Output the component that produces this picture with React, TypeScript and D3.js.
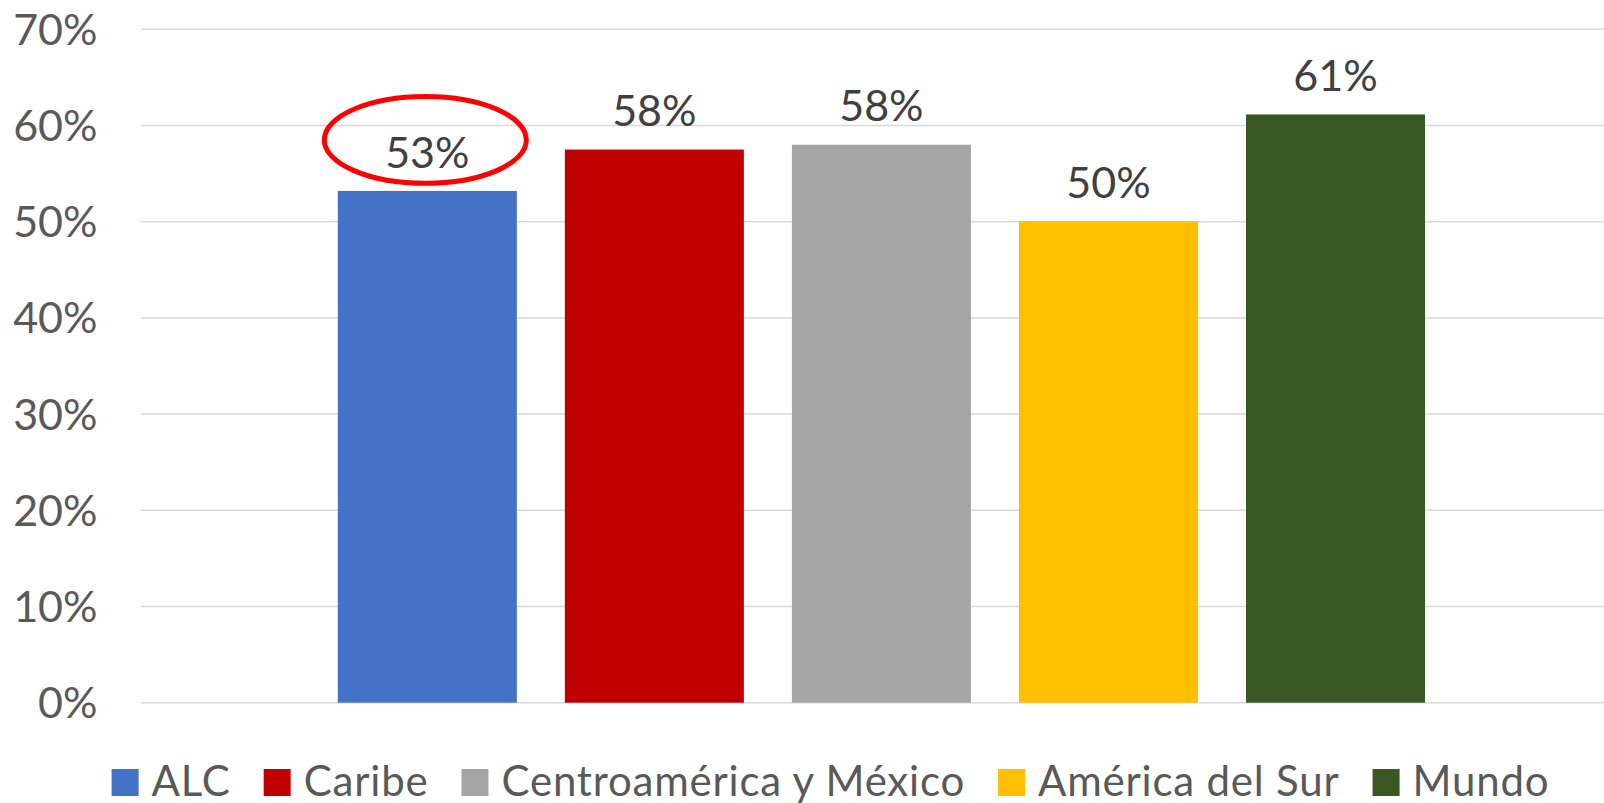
import React, { useEffect, useRef } from 'react';
import * as d3 from 'd3';

const categories = ['ALC', 'Caribe', 'Centroamérica y México', 'América del Sur', 'Mundo'];
const values = [0.532, 0.575, 0.58, 0.5005, 0.6115];
const valueLabels = ['53%', '58%', '58%', '50%', '61%'];
const colors = ['#4472C4', '#C00000', '#A5A5A5', '#FFC000', '#385723'];
const yTicks = [0, 0.1, 0.2, 0.3, 0.4, 0.5, 0.6, 0.7];
const highlighted = 'ALC';

const FONT = 'Lato, "Open Sans", sans-serif';

export default function App() {
  const ref = useRef<SVGSVGElement>(null);

  useEffect(() => {
    document.body.style.margin = '0';
    const svg = d3.select(ref.current);
    svg.selectAll('*').remove();

    const W = 1604;
    const y = d3.scaleLinear().domain([0, 0.7]).range([702.7, 29.3]);
    const x = d3
      .scaleBand<string>()
      .domain(categories)
      .range([337.8, 1425])
      .paddingInner(0.2115)
      .paddingOuter(0);

    // gridlines
    svg
      .append('g')
      .selectAll('line')
      .data(yTicks)
      .join('line')
      .attr('x1', 141)
      .attr('x2', W)
      .attr('y1', (d) => y(d))
      .attr('y2', (d) => y(d))
      .attr('stroke', '#D9D9D9')
      .attr('stroke-width', 1.5);

    // y tick labels
    const fmt = d3.format('.0%');
    svg
      .append('g')
      .selectAll('text')
      .data(yTicks)
      .join('text')
      .attr('x', 97.5)
      .attr('y', (d) => y(d) + 15.5)
      .attr('text-anchor', 'end')
      .attr('font-family', FONT)
      .attr('font-size', 43)
      .attr('fill', '#595959')
      .text((d) => fmt(d));

    // bars
    svg
      .append('g')
      .selectAll('rect')
      .data(categories)
      .join('rect')
      .attr('x', (d) => x(d)!)
      .attr('width', x.bandwidth())
      .attr('y', (d, i) => y(values[i]))
      .attr('height', (d, i) => y(0) - y(values[i]))
      .attr('fill', (d, i) => colors[i]);

    // data labels
    svg
      .append('g')
      .selectAll('text')
      .data(categories)
      .join('text')
      .attr('x', (d) => x(d)! + x.bandwidth() / 2)
      .attr('y', (d, i) => y(values[i]) - 23.4)
      .attr('text-anchor', 'middle')
      .attr('font-family', FONT)
      .attr('font-size', 43)
      .attr('fill', '#404040')
      .text((d, i) => valueLabels[i]);

    // highlight ellipse
    const hi = categories.indexOf(highlighted);
    svg
      .append('ellipse')
      .attr('cx', x(highlighted)! + x.bandwidth() / 2 - 2)
      .attr('cy', y(values[hi]) - 51)
      .attr('rx', 101)
      .attr('ry', 43.4)
      .attr('fill', 'none')
      .attr('stroke', '#FF0000')
      .attr('stroke-width', 5);

    // legend
    const legend = svg.append('g');
    const sw = 27;
    const gapText = 13;
    const gapItem = 33;
    let cursor = 0;
    categories.forEach((c, i) => {
      const g = legend.append('g').attr('transform', `translate(${cursor},0)`);
      g.append('rect')
        .attr('x', 0)
        .attr('y', 769)
        .attr('width', sw)
        .attr('height', sw)
        .attr('fill', colors[i]);
      const t = g
        .append('text')
        .attr('x', sw + gapText)
        .attr('y', 795.5)
        .attr('font-family', FONT)
        .attr('font-size', 42)
        .attr('letter-spacing', 0.8)
        .attr('fill', '#595959')
        .text(c);
      const tw = (t.node() as SVGTextElement).getComputedTextLength();
      cursor += sw + gapText + tw + (i < categories.length - 1 ? gapItem : 0);
    });
    const center = 830.5;
    legend.attr('transform', `translate(${center - cursor / 2},0)`);
  }, []);

  return <svg ref={ref} width={1604} height={803} style={{ display: 'block' }} />;
}
